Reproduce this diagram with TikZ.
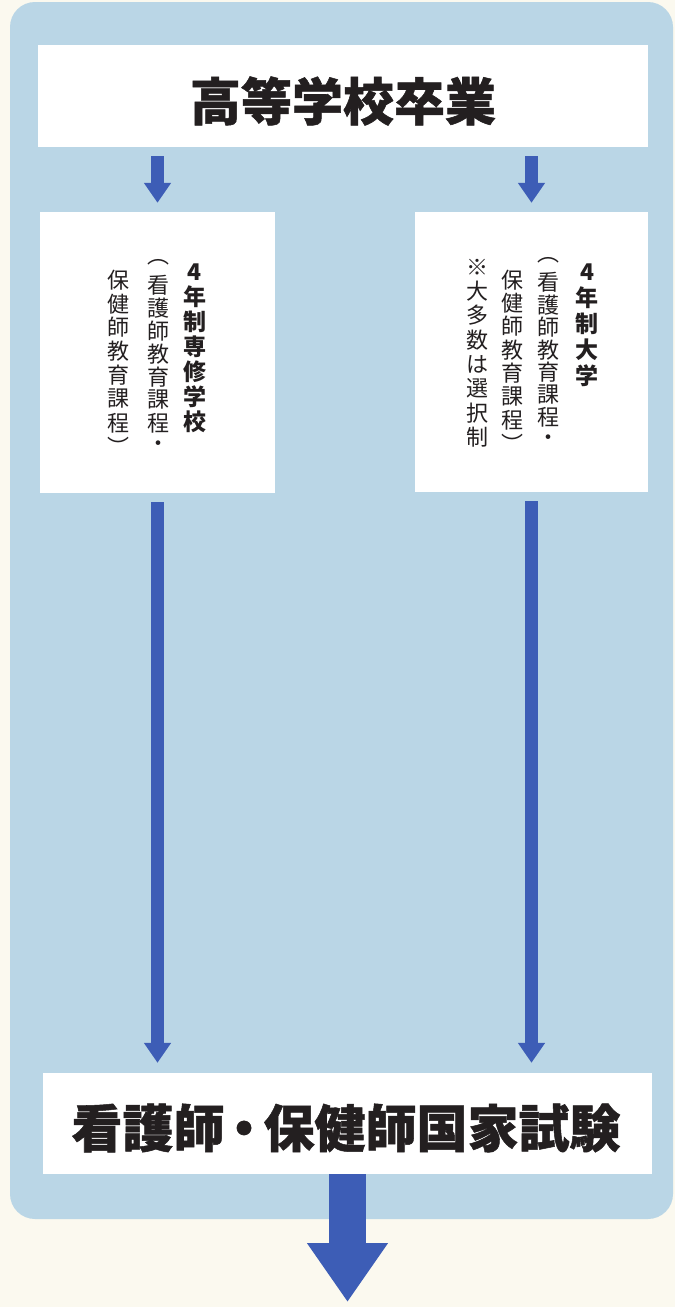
\documentclass[tikz,border=0pt]{standalone}
\usepackage{fontspec}
\newfontfamily\jp{Noto Sans CJK JP}
\newfontfamily\jpheavy[BoldFeatures={FakeBold=1}]{Noto Sans CJK JP}
\usetikzlibrary{arrows.meta, positioning}
\definecolor{paper}{HTML}{FBF9EF}
\definecolor{panel}{HTML}{BAD6E6}
\definecolor{arrowblue}{HTML}{3D5DB6}
\definecolor{ink}{HTML}{231F20}
\tikzset{
  box/.style={fill=white, inner sep=0pt},
  title/.style={inner sep=0pt, text=ink, font=\jpheavy\bfseries\fontsize{51}{51}\selectfont},
  tate/.style={inner sep=0pt, text=ink, font=\jp\fontsize{22}{22}\selectfont},
  tatebold/.style={tate, font=\jp\bfseries\fontsize{23}{23}\selectfont},
  flow/.style={arrowblue, line width=12.5pt, -{Triangle[width=26pt, length=20pt]}},
  bigflow/.style={arrowblue, line width=37pt, -{Triangle[width=77pt, length=59pt]}}
}
\begin{document}
\begin{tikzpicture}[x=1pt, y=-1pt]
    % Background
    \fill[paper] (0,0) rectangle (675,1307);
    \useasboundingbox (0,0) rectangle (675,1307);
    \fill[panel, rounded corners=25pt] (10,2) rectangle (673,1219);
    % Boxes
    \node[box, minimum width=610pt, minimum height=102pt] (school) at (343,96) {};
    \node[title] (school-t) at (343,101) {高等学校卒業};
    \node[box, minimum width=235pt, minimum height=281pt] (senshu) at (157.5,352.5) {};
    \node[box, minimum width=233pt, minimum height=280pt] (daigaku) at (531.5,352) {};
    \node[box, minimum width=609pt, minimum height=101pt] (exam) at (347.5,1123.5) {};
    \node[title] (exam-t) at (346,1128) {看護師\kern-6pt・\kern-6pt保健師国家試験};
    % Vertical text, left box
    \foreach \ch [count=\i from 0] in {4,年,制,専,修,学,校}
        \node[tatebold] (sa\i) at (195,272+25*\i) {\ch};
    \foreach \ch [count=\i from 0] in {︵,看,護,師,教,育,課,程,・}
        \node[tate] (sb\i) at (158,262+23*\i) {\ch};
    \foreach \ch [count=\i from 0] in {保,健,師,教,育,課,程,︶}
        \node[tate] (sc\i) at (118,280+23.8*\i) {\ch};
    % Vertical text, right box
    \foreach \ch [count=\i from 0] in {4,年,制,大,学}
        \node[tatebold] (da\i) at (587,272+26*\i) {\ch};
    \foreach \ch [count=\i from 0] in {︵,看,護,師,教,育,課,程,・}
        \node[tate] (db\i) at (548,260+22.5*\i) {\ch};
    \foreach \ch [count=\i from 0] in {保,健,師,教,育,課,程,︶}
        \node[tate] (dc\i) at (512,280+23.3*\i) {\ch};
    \foreach \ch [count=\i from 0] in {※,大,多,数,は,選,択,制}
        \node[tate] (dd\i) at (477,267+24.3*\i) {\ch};
    % Arrows
    \draw[flow, shorten <=9pt, shorten >=9pt] (school.south -| senshu.north) -- (senshu.north);
    \draw[flow, shorten <=9pt, shorten >=9pt] (school.south -| daigaku.north) -- (daigaku.north);
    \draw[flow, shorten <=9pt, shorten >=10pt] (senshu.south) -- (exam.north -| senshu.south);
    \draw[flow, shorten <=9pt, shorten >=10pt] (daigaku.south) -- (exam.north -| daigaku.south);
    \coordinate (goal) at (347.5,1302);
    \draw[bigflow] (exam.south) -- (goal);
\end{tikzpicture}
\end{document}
